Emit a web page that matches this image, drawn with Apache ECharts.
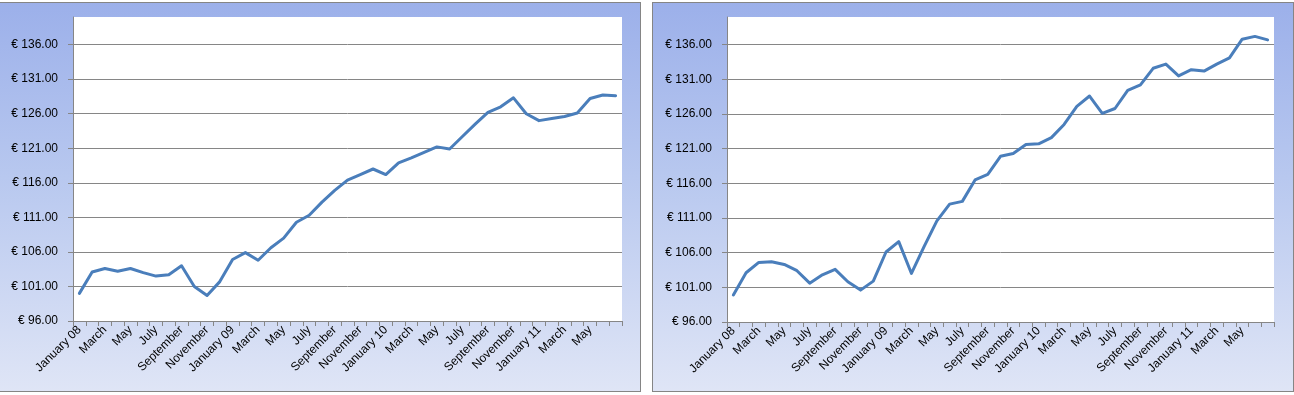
<!DOCTYPE html>
<html>
<head>
<meta charset="utf-8">
<script src="https://cdn.jsdelivr.net/npm/echarts@6/dist/echarts.min.js"></script>
<style>
  html, body { margin: 0; padding: 0; background: #ffffff; }
  body { width: 1294px; height: 395px; position: relative; overflow: hidden; }
  .panel {
    position: absolute; top: 2px; height: 390px; box-sizing: border-box;
    border: 1px solid #858585;
    background: linear-gradient(to bottom, #9cb0ea 0%, #b8c8ef 45%, #dfe5f6 100%);
  }
  #p1 { left: -1px; width: 642px; }
  #p2 { left: 652px; width: 642px; }
  #chart { position: absolute; left: 0; top: 0; width: 1294px; height: 395px; }
</style>
</head>
<body>
<div class="panel" id="p1"></div>
<div class="panel" id="p2"></div>
<div id="chart"></div>
<script>
// Categories: monthly, January 2008 – July 2011
const categories = [
  "January 08", "February", "March", "April", "May", "June", "July", "August", "September", "October", "November", "December",
  "January 09", "February", "March", "April", "May", "June", "July", "August", "September", "October", "November", "December",
  "January 10", "February", "March", "April", "May", "June", "July", "August", "September", "October", "November", "December",
  "January 11", "February", "March", "April", "May", "June", "July"
];

// Left chart values (€)
const leftValues = [
  100.0, 103.1, 103.6, 103.2, 103.6, 103.0, 102.5, 102.7, 104.0, 101.0, 99.7, 101.7,
  104.9, 105.9, 104.8, 106.6, 108.0, 110.3, 111.3, 113.2, 114.9, 116.4, 117.2, 118.0,
  117.2, 118.9, 119.6, 120.4, 121.2, 120.9, 122.7, 124.5, 126.2, 127.0, 128.3, 126.0,
  125.0, 125.3, 125.6, 126.1, 128.2, 128.7, 128.6
];

// Right chart values (€)
const rightValues = [
  99.9, 103.1, 104.6, 104.7, 104.3, 103.4, 101.6, 102.8, 103.6, 101.8, 100.6, 101.9,
  106.1, 107.6, 103.0, 106.9, 110.6, 113.0, 113.4, 116.5, 117.3, 119.9, 120.3, 121.6,
  121.7, 122.6, 124.5, 127.1, 128.6, 126.1, 126.8, 129.4, 130.2, 132.6, 133.2, 131.5,
  132.4, 132.2, 133.2, 134.1, 136.8, 137.2, 136.7
];

// Y tick labels
const yTicks = [96, 101, 106, 111, 116, 121, 126, 131, 136];
const yMin = 96, yMax = 140, yStep = 5;

const FONT = "'Liberation Sans', Arial, sans-serif";
const gridColor = '#868686';

function xAxis(gridIndex) {
  return {
    type: 'category', gridIndex, data: categories, boundaryGap: true,
    axisLine: { show: true, lineStyle: { color: gridColor, width: 1 } },
    axisTick: { show: true, length: 5, interval: 0, lineStyle: { color: gridColor } },
    axisLabel: {
      interval: 1, rotate: 45, margin: 7, showMaxLabel: false,
      color: '#000', fontSize: 12, fontFamily: FONT
    },
    splitLine: { show: false }
  };
}
function yAxis(gridIndex) {
  return {
    type: 'value', gridIndex, min: yMin, max: yMax, interval: yStep,
    axisLine: { show: true, lineStyle: { color: gridColor, width: 1 } },
    axisTick: { show: true, length: 5, inside: false, customValues: yTicks, lineStyle: { color: gridColor } },
    axisLabel: {
      customValues: yTicks, margin: 15,
      color: '#000', fontSize: 12, fontFamily: FONT,
      formatter: v => '€ ' + v.toFixed(2)
    },
    splitLine: { show: true, lineStyle: { color: gridColor, width: 1 } }
  };
}
function lineSeries(idx, data) {
  return {
    type: 'line', xAxisIndex: idx, yAxisIndex: idx, data,
    showSymbol: false, symbol: 'none', smooth: false,
    lineStyle: { color: '#4a7ebb', width: 3, join: 'round', cap: 'round' },
    itemStyle: { color: '#4a7ebb' },
    animation: false
  };
}

const chart = echarts.init(document.getElementById('chart'), null, { renderer: 'canvas' });
chart.setOption({
  animation: false,
  backgroundColor: 'transparent',
  grid: [
    { left: 73, top: 17, width: 549, height: 304, show: true, backgroundColor: '#ffffff', borderWidth: 0 },
    { left: 727, top: 17, width: 547, height: 305, show: true, backgroundColor: '#ffffff', borderWidth: 0 }
  ],
  xAxis: [xAxis(0), xAxis(1)],
  yAxis: [yAxis(0), yAxis(1)],
  series: [lineSeries(0, leftValues), lineSeries(1, rightValues)]
});
</script>
</body>
</html>
